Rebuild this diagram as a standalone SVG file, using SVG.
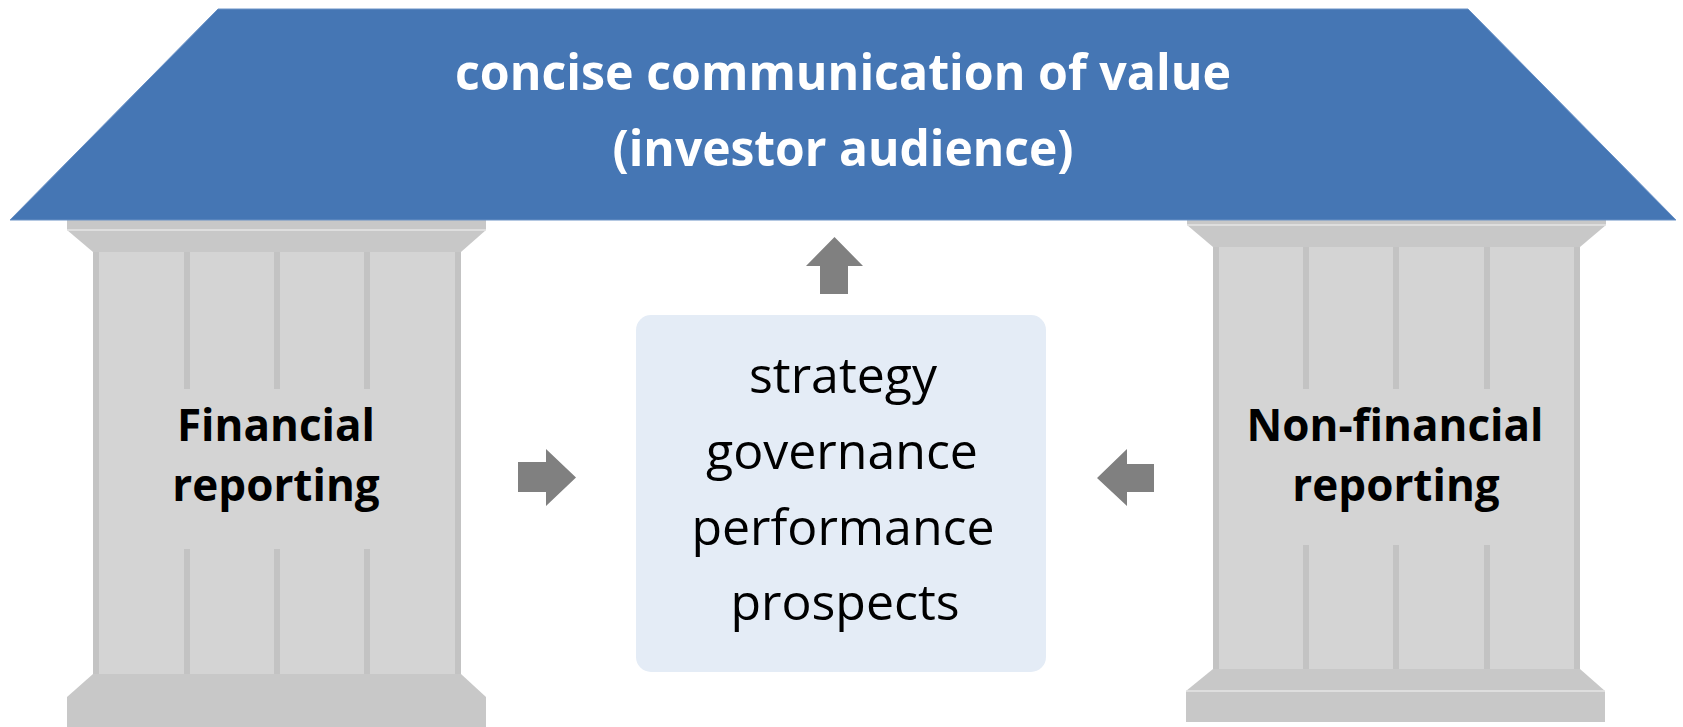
<svg xmlns="http://www.w3.org/2000/svg" width="1683" height="727" viewBox="0 0 1683 727">
<style>
.slab{fill:#c8c8c8}
.shaft{fill:#d4d4d4}
.flute{fill:#c3c3c3}
.hl{stroke:#e6e6e6;stroke-width:1.5}
.arrow{fill:#808080}
.title{font-family:"Open Sans","Liberation Sans",sans-serif;font-weight:bold;fill:#ffffff;text-anchor:middle}
.lbl{font-family:"Open Sans","Liberation Sans",sans-serif;font-weight:bold;fill:#000000;text-anchor:middle}
.mid{font-family:"Open Sans","Liberation Sans",sans-serif;fill:#000000;text-anchor:middle}
</style>
<rect width="1683" height="727" fill="#ffffff"/>
<g id="pillar-left">
  <rect class="slab" x="67" y="220" width="419" height="10"/>
  <polygon class="slab" points="67,230 486,230 461,252 93,252"/>
  <line class="hl" x1="67" y1="230" x2="486" y2="230"/>
  <rect class="shaft" x="93" y="252" width="368" height="422"/>
  <rect class="flute" x="93" y="252" width="6" height="422"/>
  <rect class="flute" x="455" y="252" width="6" height="422"/>
  <rect class="flute" x="184" y="252" width="6" height="137"/>
  <rect class="flute" x="274" y="252" width="6" height="137"/>
  <rect class="flute" x="364" y="252" width="6" height="137"/>
  <rect class="flute" x="184" y="549" width="6" height="125"/>
  <rect class="flute" x="274" y="549" width="6" height="125"/>
  <rect class="flute" x="364" y="549" width="6" height="125"/>
  <polygon class="slab" points="93,674 461,674 486,697 67,697"/>
  <rect class="slab" x="67" y="697" width="419" height="30"/>
  <text class="lbl" x="276" y="441" font-size="44">Financial</text>
  <text class="lbl" x="276" y="501" font-size="44">reporting</text>
</g>
<g id="pillar-right">
  <rect class="slab" x="1187" y="220" width="419" height="5"/>
  <polygon class="slab" points="1187,225 1606,225 1580,247 1213,247"/>
  <line class="hl" x1="1187" y1="225" x2="1606" y2="225"/>
  <rect class="shaft" x="1213" y="247" width="367" height="422"/>
  <rect class="flute" x="1213" y="247" width="6" height="422"/>
  <rect class="flute" x="1574" y="247" width="6" height="422"/>
  <rect class="flute" x="1303" y="247" width="6" height="142"/>
  <rect class="flute" x="1393" y="247" width="6" height="142"/>
  <rect class="flute" x="1484" y="247" width="6" height="142"/>
  <rect class="flute" x="1303" y="545" width="6" height="124"/>
  <rect class="flute" x="1393" y="545" width="6" height="124"/>
  <rect class="flute" x="1484" y="545" width="6" height="124"/>
  <polygon class="slab" points="1213,669 1580,669 1605,691 1186,691"/>
  <rect class="slab" x="1186" y="691" width="419" height="31"/>
  <line class="hl" x1="1186" y1="691" x2="1605" y2="691"/>
  <text class="lbl" x="1395" y="441" font-size="44">Non-financial</text>
  <text class="lbl" x="1396" y="501" font-size="44">reporting</text>
</g>
<g id="roof">
  <polygon points="218,9 1468,9 1676,220 10,220" fill="#4576b4" stroke="#6b92c6" stroke-width="1"/>
  <text class="title" x="843" y="90" font-size="51" textLength="776" lengthAdjust="spacingAndGlyphs">concise communication of value</text>
  <text class="title" x="843" y="166" font-size="51" textLength="461" lengthAdjust="spacingAndGlyphs">(investor audience)</text>
</g>
<g id="center-box">
  <rect x="636" y="315" width="410" height="357" rx="15" ry="15" fill="#e4ecf6"/>
  <text class="mid" x="843" y="393" font-size="50">strategy</text>
  <text class="mid" x="842" y="469" font-size="50">governance</text>
  <text class="mid" x="843" y="545" font-size="50">performance</text>
  <text class="mid" x="845" y="620" font-size="50">prospects</text>
</g>
<g id="connectors">
  <polygon class="arrow" points="834.5,237 863,266 848,266 848,294 820,294 820,266 806,266"/>
  <polygon class="arrow" points="518,462 546,462 546,449 576,477.5 546,506 546,492 518,492"/>
  <polygon class="arrow" points="1154,464 1127,464 1127,449 1097,478 1127,506 1127,492 1154,492"/>
</g>
</svg>
